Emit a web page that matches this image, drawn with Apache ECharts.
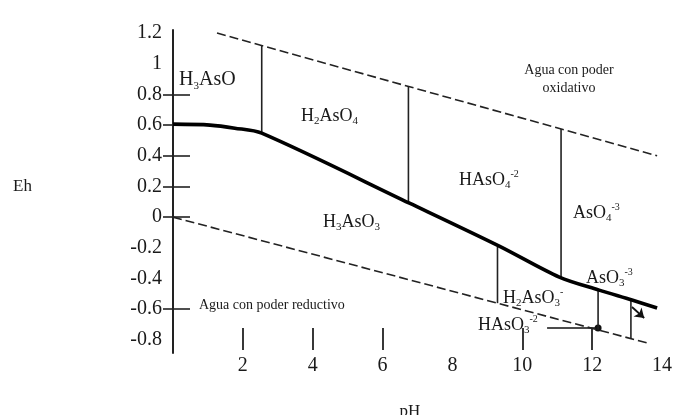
<!DOCTYPE html>
<html><head><meta charset="utf-8">
<script src="https://cdn.jsdelivr.net/npm/echarts@6/dist/echarts.min.js"></script>
<style>html,body{margin:0;padding:0;background:#fff}#c{width:675px;height:415px}</style>
</head><body><div id="c"></div>
<script>
// Axis ticks / labels
const yTickLabels = [1.2, 1, 0.8, 0.6, 0.4, 0.2, 0, -0.2, -0.4, -0.6, -0.8];
const yTickMarks = [0.8, 0.6, 0.4, 0.2, 0, -0.6];
const xTickLabels = [2, 4, 6, 8, 10, 12, 14];
const xTickMarks = [2, 4, 6, 10, 12];

// As(V)/As(III) boundary (thick line)
const asBoundaryPH = [0, 1.06, 1.77, 2.54, 6.77, 9.34, 11.06, 12.2, 13.14, 13.86];
const asBoundaryEh = [0.606, 0.60, 0.58, 0.547, 0.091, -0.189, -0.391, -0.476, -0.541, -0.593];
// Water stability limits (dashed)
const oxidPH = [1.26, 13.86];
const oxidEh = [1.2, 0.40];
const reducPH = [0, 13.57];
const reducEh = [0, -0.82];
// Vertical species dividers
const dividerPH = [2.54, 6.74, 11.11, 9.29, 12.17, 13.11];
const dividerTop = [1.119, 0.852, 0.575, -0.195, -0.476, -0.535];
const dividerBottom = [0.547, 0.094, -0.393, -0.561, -0.735, -0.792];
// Pointer arrows
const arrowPH = [10.71, 12.17];
const arrowEh = [-0.723, -0.723];
const smallArrowPH = [13.14, 13.49];
const smallArrowEh = [-0.586, -0.658];

const serif = '"Liberation Serif", "DejaVu Serif", serif';
const ink = '#1a1a1a';
const zip = (a, b) => a.map((v, i) => [v, b[i]]);

const series = [];
series.push({
  type: 'line', data: zip(asBoundaryPH, asBoundaryEh), smooth: 0.3, symbol: 'none',
  lineStyle: { color: '#000', width: 3.6 }, clip: false, z: 5
});
series.push({
  type: 'line', data: zip(oxidPH, oxidEh), symbol: 'none',
  lineStyle: { color: '#222', width: 1.6, type: [9, 4] }, clip: false
});
series.push({
  type: 'line', data: zip(reducPH, reducEh), symbol: 'none',
  lineStyle: { color: '#222', width: 1.6, type: [9, 4] }, clip: false
});
dividerPH.forEach((p, i) => {
  series.push({
    type: 'line', data: [[p, dividerTop[i]], [p, dividerBottom[i]]], symbol: 'none',
    lineStyle: { color: '#222', width: 1.6 }, clip: false
  });
});
series.push({
  type: 'lines', coordinateSystem: 'cartesian2d',
  data: [{ coords: zip(arrowPH, arrowEh) }],
  symbol: ['none', 'circle'], symbolSize: 7,
  lineStyle: { color: '#111', width: 1.6, opacity: 1 }
});
series.push({
  type: 'lines', coordinateSystem: 'cartesian2d',
  data: [{ coords: zip(smallArrowPH, smallArrowEh) }],
  symbol: ['none', 'arrow'], symbolSize: 9,
  lineStyle: { color: '#111', width: 1.8, opacity: 1 }
});

const rich = {
  n: { fontFamily: serif, fontSize: 18, lineHeight: 21, fill: ink },
  sub: { fontFamily: serif, fontSize: 11, lineHeight: 13, verticalAlign: 'bottom', fill: ink },
  sup: { fontFamily: serif, fontSize: 10, lineHeight: 12, verticalAlign: 'top', fill: ink }
};
function species(text, x, y, size) {
  const r = JSON.parse(JSON.stringify(rich));
  if (size) { r.n.fontSize = size; r.n.lineHeight = size + 3; }
  return {
    type: 'text', x: x, y: y, z: 10,
    style: { text: text, rich: r, fontFamily: serif, fontSize: size || 18, fill: ink, verticalAlign: 'middle', align: 'left' }
  };
}
function plain(text, x, y, size, align) {
  return {
    type: 'text', x: x, y: y, z: 10,
    style: { text: text, fontFamily: serif, fontSize: size, fill: ink, align: align || 'left', verticalAlign: 'middle' }
  };
}

const graphics = [
  species('{n|H}{sub|3}{n|AsO}', 179, 80, 20),
  species('{n|H}{sub|2}{n|AsO}{sub|4}', 301, 116),
  species('{n|HAsO}{sub|4}{sup|-2}', 459, 180),
  species('{n|H}{sub|3}{n|AsO}{sub|3}', 323, 222),
  species('{n|AsO}{sub|4}{sup|-3}', 573, 213),
  species('{n|AsO}{sub|3}{sup|-3}', 586, 278),
  species('{n|H}{sub|2}{n|AsO}{sub|3}{sup|-}', 503, 298),
  species('{n|HAsO}{sub|3}{sup|-2}', 478, 325),
  plain('Agua con poder', 569, 70, 14, 'center'),
  plain('oxidativo', 569, 88, 14, 'center'),
  plain('Agua con poder reductivo', 199, 305, 14, 'left'),
  plain('Eh', 13, 187, 17, 'left'),
  plain('pH', 410, 412, 17, 'center')
];

const chart = echarts.init(document.getElementById('c'), null, { renderer: 'canvas' });
chart.setOption({
  animation: false,
  backgroundColor: '#fff',
  grid: { left: 173, right: 12, top: 30, bottom: 62, containLabel: false },
  xAxis: {
    type: 'value', min: 0, max: 14, offset: -3, position: 'bottom',
    splitLine: { show: false },
    axisLine: { show: false, onZero: false },
    axisTick: { show: true, inside: true, length: 22, customValues: xTickMarks, lineStyle: { color: '#222', width: 1.8 } },
    axisLabel: { show: true, customValues: xTickLabels, margin: 6, fontFamily: serif, fontSize: 20, color: ink }
  },
  yAxis: [{
    type: 'value', min: -0.886, max: 1.22,
    splitLine: { show: false },
    axisLine: { show: true, onZero: false, lineStyle: { color: '#222', width: 2 } },
    axisTick: { show: true, inside: true, length: 17, customValues: yTickMarks, lineStyle: { color: '#222', width: 1.6 } },
    axisLabel: { show: true, customValues: yTickLabels, margin: 11, padding: [0, 0, 10, 0], fontFamily: serif, fontSize: 20, color: ink }
  }, {
    type: 'value', min: -0.886, max: 1.22, position: 'left',
    splitLine: { show: false },
    axisLine: { show: false, onZero: false },
    axisTick: { show: true, inside: false, length: 10, customValues: yTickMarks, lineStyle: { color: '#222', width: 1.6 } },
    axisLabel: { show: false }
  }],
  graphic: graphics,
  series: series
});
</script>
</body></html>
